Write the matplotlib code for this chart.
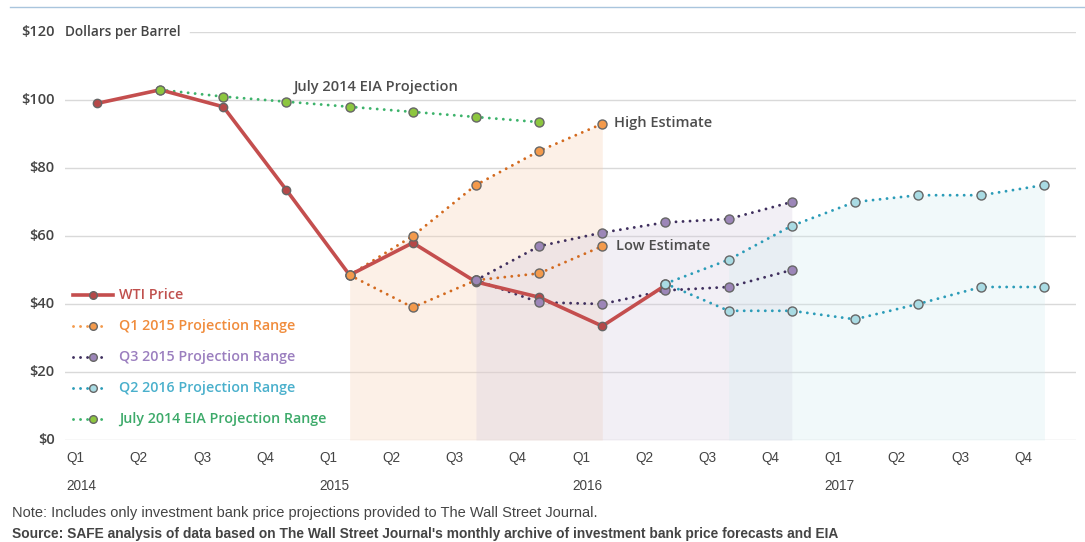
import matplotlib.pyplot as plt
import matplotlib.lines as mlines

# ── Data ─────────────────────────────────────────────────────────────────────
quarters = ["Q1", "Q2", "Q3", "Q4"] * 4
years = ["2014", "2015", "2016", "2017"]

wti_q = list(range(0, 10))
wti = [99, 103, 98, 73.5, 48.5, 58, 46.5, 42, 33.5, 45.5]

eia_q = list(range(1, 8))
eia = [103, 101, 99.5, 98, 96.5, 95, 93.5]

q1_15_q = list(range(4, 9))
q1_15_high = [48.5, 60, 75, 85, 93]
q1_15_low = [48.5, 39, 47, 49, 57]

q3_15_q = list(range(6, 12))
q3_15_high = [47, 57, 61, 64, 65, 70]
q3_15_low = [47, 40.5, 40, 44, 45, 50]

q2_16_q = list(range(9, 16))
q2_16_high = [46, 53, 63, 70, 72, 72, 75]
q2_16_low = [46, 38, 38, 35.5, 40, 45, 45]

# ── Styles ───────────────────────────────────────────────────────────────────
sans = ["Open Sans", "DejaVu Sans"]
plain = ["Liberation Sans", "DejaVu Sans"]
dot = (0, (0.01, 2.4))

series = [
    # (x, values, line colour, marker fill)
    (q1_15_q, q1_15_high, "#d36a1f", "#f39a4c"),
    (q1_15_q, q1_15_low, "#d36a1f", "#f39a4c"),
    (q3_15_q, q3_15_high, "#3f2f5e", "#9c86b8"),
    (q3_15_q, q3_15_low, "#3f2f5e", "#9c86b8"),
    (q2_16_q, q2_16_high, "#2b9cb8", "#a9dbe3"),
    (q2_16_q, q2_16_low, "#2b9cb8", "#a9dbe3"),
    (eia_q, eia, "#3db36b", "#8dc63f"),
]

# shaded areas under each high estimate: (x, values, first point used, colour)
shades = [
    (q1_15_q, q1_15_high, 0, "#f8d0b2"),
    (q3_15_q, q3_15_high, 0, "#d4cade"),
    (q2_16_q, q2_16_high, 1, "#d2ecef"),
]

fig = plt.figure(figsize=(10.85, 5.42), dpi=100)
ax = fig.add_axes([65.4 / 1085, 102 / 542, (1076 - 65.4) / 1085, 408 / 542])
ax.set_xlim(0, 16)
ax.set_ylim(0, 120)
ax.axis("off")

# gridlines
for v in range(0, 120, 20):
    ax.axhline(v, color="#d9d9d9", lw=1, zorder=0)
ax.plot([1.97, 16], [120, 120], color="#d9d9d9", lw=1, zorder=0)

for xs, ys, k, c in shades:
    px = [q + 0.5 for q in xs[k:]]
    ax.fill_between(px, 0, ys[k:], color=c, alpha=0.3, lw=0, zorder=0.5)

for xs, ys, lc, mc in series:
    px = [q + 0.5 for q in xs]
    ax.plot(px, ys, linestyle=dot, dash_capstyle="round", color=lc, lw=2.1, zorder=2)
    ax.plot(px, ys, "o", ms=6.5, mfc=mc, mec="#666666", mew=1, zorder=4)

ax.plot([q + 0.5 for q in wti_q], wti, color="#c44e4e", lw=2.6, zorder=3,
        marker="o", ms=6, mfc="#b54848", mec="#666666", mew=1)

# y tick labels
for v in range(0, 121, 20):
    ax.text(-0.17, v, f"${v}", ha="right", va="center", fontsize=10.5,
            fontweight="semibold", color="#444444", family=sans)
ax.text(0.0, 120, "Dollars per Barrel", ha="left", va="center", fontsize=9.8,
        fontweight="semibold", color="#444444", family=sans)

# x tick labels
for i, q in enumerate(quarters):
    ax.text(i + 0.02, -5.3, q, ha="left", va="center", fontsize=9.8,
            color="#444444", family=plain)
for k, yr in enumerate(years):
    ax.text(k * 4 + 0.02, -13.5, yr, ha="left", va="center", fontsize=9.8,
            color="#444444", family=plain)

# annotations
ax.text(3.61, 104, "July 2014 EIA Projection", ha="left", va="center", fontsize=10.5,
        fontweight="semibold", color="#4d4d4d", family=sans)
ax.text(8.68, 93.3, "High Estimate", ha="left", va="center", fontsize=10.5,
        fontweight="semibold", color="#4d4d4d", family=sans)
ax.text(8.71, 57, "Low Estimate", ha="left", va="center", fontsize=10.5,
        fontweight="semibold", color="#4d4d4d", family=sans)

# legend drawn by hand
legend = [
    ("WTI Price", "#c44e4e", "#b54848", "#c0504d", True),
    ("Q1 2015 Projection Range", "#f39a4c", "#f39a4c", "#f08c3c", False),
    ("Q3 2015 Projection Range", "#3f2f5e", "#9c86b8", "#9b7fbf", False),
    ("Q2 2016 Projection Range", "#2b9cb8", "#a9dbe3", "#4ab0cc", False),
    ("July 2014 EIA Projection Range", "#3db36b", "#8dc63f", "#3daa6a", False),
]
for r, (label, lc, mc, tc, solid) in enumerate(legend):
    yy = (440 - (295 + r * 31)) / 3.4
    x0, x1 = (73 - 65.4) / 63.2, (107 - 65.4) / 63.2
    if solid:
        x1 = (113 - 65.4) / 63.2
        ax.plot([x0, x1], [yy, yy], color=lc, lw=2.6, zorder=5)
    else:
        ax.plot([x0, x1], [yy, yy], linestyle=dot, dash_capstyle="round",
                color=lc, lw=2.1, zorder=5)
    ax.plot([(93 - 65.4) / 63.2], [yy], "o", ms=5.5, mfc=mc, mec="#666666", mew=1, zorder=6)
    ax.text((119 - 65.4) / 63.2, yy, label, ha="left", va="center", fontsize=10.3,
            fontweight="semibold", color=tc, family=sans)

# top rule and notes
fig.add_artist(mlines.Line2D([10 / 1085, 1], [1 - 7 / 542] * 2, color="#a9c5dd", lw=1))
fig.text(12 / 1085, 1 - 513 / 542, "Note: Includes only investment bank price projections provided to The Wall Street Journal.",
         ha="left", va="center", fontsize=10.5, color="#444444", family=plain)
fig.text(12 / 1085, 1 - 534 / 542, "Source: SAFE analysis of data based on The Wall Street Journal's monthly archive of investment bank price forecasts and EIA",
         ha="left", va="center", fontsize=9.9, fontweight="bold", color="#444444", family=plain)

plt.savefig("out.png", dpi=100)
